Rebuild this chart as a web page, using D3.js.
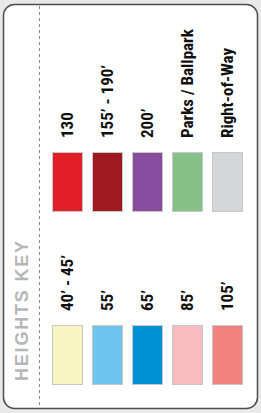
<!DOCTYPE html>
<html>
<head>
<meta charset="utf-8">
<script src="https://cdn.jsdelivr.net/npm/d3@7"></script>
<style>
  html, body { margin: 0; padding: 0; background: #e9e9e9; }
  svg { display: block; }
  .label { font-family: "Liberation Sans Narrow", "Roboto Condensed", "Liberation Sans", sans-serif; font-weight: bold; font-size: 17px; fill: #111; }
  .title { font-family: "Liberation Sans", Arial, sans-serif; font-weight: bold; font-size: 18px; fill: #b5b6b8; letter-spacing: 1.8px; }
</style>
</head>
<body>
<div id="wrapper"></div>
<script>
// data
const topLabels = ["130", "155’ - 190’", "200’", "Parks / Ballpark", "Right-of-Way"];
const topColors = ["#e21f26", "#9e1a20", "#874c9e", "#86c189", "#d5d6d8"];
const bottomLabels = ["40’ - 45’", "55’", "65’", "85’", "105’"];
const bottomColors = ["#f8f5c0", "#6fc5ee", "#0090d6", "#f8bcbf", "#f2817f"];
const keyTitle = "HEIGHTS KEY";

function drawKey() {
    const dimensions = { width: 261, height: 413 };

    const wrapper = d3.select("#wrapper")
        .append("svg")
        .attr("width", dimensions.width)
        .attr("height", dimensions.height)

    // card
    wrapper.append("rect")
        .attr("x", 3.5)
        .attr("y", 4.5)
        .attr("width", 254)
        .attr("height", 404)
        .attr("rx", 11)
        .attr("fill", "#fff")
        .attr("stroke", "#4d4d4d")
        .attr("stroke-width", 1.5)

    wrapper.append("line")
        .attr("x1", 39.5).attr("x2", 39.5)
        .attr("y1", 6).attr("y2", 408)
        .attr("stroke", "#8a8a8a")
        .attr("stroke-dasharray", "3,3")

    wrapper.append("text")
        .attr("class", "title")
        .attr("transform", "translate(27.5, 381) rotate(-90)")
        .text(keyTitle)

    const xScale = d3.scaleBand()
        .domain(d3.range(5))
        .range([52.5, 242.5])
        .paddingInner(0.25)

    const rows = [
        { labels: topLabels, colors: topColors, y: 152.5, labelY: 138 },
        { labels: bottomLabels, colors: bottomColors, y: 325.5, labelY: 311 },
    ];

    rows.forEach(row => {
        const g = wrapper.append("g")

        g.selectAll("rect")
            .data(row.colors)
            .join("rect")
            .attr("x", (d, i) => xScale(i))
            .attr("y", row.y)
            .attr("width", xScale.bandwidth())
            .attr("height", 59)
            .attr("fill", d => d)
            .attr("stroke", "#c8c8c8")
            .attr("stroke-width", 1)

        g.selectAll("text")
            .data(row.labels)
            .join("text")
            .attr("class", "label")
            .attr("transform", (d, i) => `translate(${xScale(i) + xScale.bandwidth() / 2 + 5}, ${row.labelY}) rotate(-90)`)
            .text(d => d)
    });
}

drawKey();
</script>
</body>
</html>
